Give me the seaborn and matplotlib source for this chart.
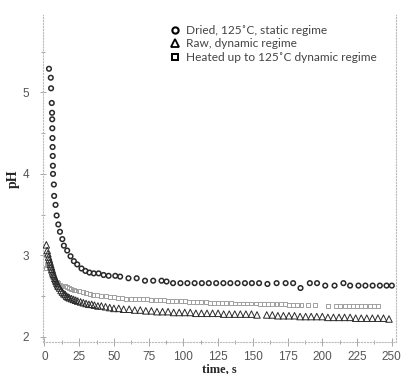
import matplotlib
matplotlib.use("Agg")
import matplotlib.pyplot as plt
from matplotlib.lines import Line2D
from matplotlib.ticker import MultipleLocator
import seaborn as sns

# Dried, 125 C, static regime (circles)
t_dried = [3.3, 4.6, 4.8, 5.3, 5.5, 5.6, 5.7, 5.8, 5.9, 6.0, 6.1, 6.2,
           6.8, 7.0, 8.0, 8.8, 10.0, 11.2, 12.9, 14.0, 16.4, 18.8, 21.2, 23.6,
           26.7, 29.5, 32.4, 35.5, 39.0, 42.6, 46.2, 51.0, 54.5, 60.5, 66.4, 72.4,
           78.3, 84.3, 87.9, 92.6, 97.9, 102.9, 108.1, 113.3, 118.3, 123.6, 128.8, 133.8,
           139.0, 144.3, 149.3, 154.5, 160.5, 167.1, 173.6, 179.0, 184.3, 191.0, 196.2, 202.1,
           208.8, 215.2, 220.0, 226.0, 231.0, 236.2, 241.4, 246.2, 250.0]
ph_dried = [5.29, 5.18, 5.05, 4.87, 4.75, 4.67, 4.56, 4.44, 4.33, 4.22, 4.10, 4.00,
            3.87, 3.73, 3.62, 3.49, 3.38, 3.29, 3.20, 3.12, 3.06, 2.99, 2.93, 2.89,
            2.84, 2.81, 2.79, 2.78, 2.78, 2.76, 2.75, 2.75, 2.74, 2.72, 2.72, 2.69,
            2.69, 2.69, 2.68, 2.66, 2.66, 2.66, 2.66, 2.66, 2.66, 2.66, 2.66, 2.66,
            2.66, 2.66, 2.66, 2.66, 2.65, 2.66, 2.66, 2.66, 2.60, 2.66, 2.66, 2.63,
            2.63, 2.66, 2.63, 2.63, 2.63, 2.63, 2.63, 2.63, 2.63]

# Raw, dynamic regime (triangles)
t_raw = [1.4, 2.0, 2.5, 3.0, 3.5, 4.0, 4.5, 5.0, 5.5, 6.0,
         6.5, 7.0, 7.5, 8.0, 8.5, 9.0, 9.5, 10.0, 11.0, 12.0,
         13.0, 14.0, 15.0, 16.0, 17.0, 18.0, 19.5, 21.0, 22.5, 24.0,
         26.0, 28.0, 30.0, 32.0, 34.0, 36.0, 38.5, 41.0, 44.0, 47.0,
         50.0, 53.5, 57.0, 61.0, 65.0, 69.0, 73.0, 77.0, 81.0, 85.0,
         89.0, 93.0, 97.0, 101.0, 105.0, 109.0, 113.0, 117.0, 121.0, 125.0,
         129.0, 133.0, 137.0, 141.0, 145.0, 149.0, 153.0, 160.0, 164.0, 168.0,
         172.0, 176.0, 180.0, 184.0, 188.0, 192.0, 196.0, 200.0, 204.0, 208.0,
         212.0, 216.0, 220.0, 224.0, 228.0, 232.0, 236.0, 240.0, 244.0, 248.0]
ph_raw = [3.13, 3.06, 3.02, 2.98, 2.95, 2.92, 2.89, 2.86, 2.83, 2.80,
          2.77, 2.75, 2.72, 2.70, 2.68, 2.66, 2.64, 2.62, 2.60, 2.57,
          2.55, 2.53, 2.52, 2.50, 2.49, 2.48, 2.47, 2.46, 2.45, 2.44,
          2.43, 2.42, 2.41, 2.40, 2.40, 2.39, 2.38, 2.38, 2.37, 2.36,
          2.35, 2.35, 2.34, 2.34, 2.33, 2.33, 2.32, 2.32, 2.31, 2.31,
          2.31, 2.30, 2.30, 2.30, 2.30, 2.29, 2.29, 2.29, 2.29, 2.29,
          2.28, 2.28, 2.28, 2.28, 2.28, 2.28, 2.27, 2.27, 2.27, 2.26,
          2.26, 2.26, 2.26, 2.25, 2.25, 2.25, 2.25, 2.25, 2.24, 2.24,
          2.24, 2.24, 2.24, 2.23, 2.23, 2.23, 2.23, 2.23, 2.23, 2.22]

# Heated up to 125 C, dynamic regime (squares)
t_heated = [1.0, 2.0, 3.0, 4.0, 5.0, 6.0, 7.0, 8.0, 9.0, 10.0,
            11.5, 13.0, 14.5, 16.0, 17.5, 19.0, 21.0, 23.0, 25.0, 27.5,
            30.0, 32.5, 35.0, 38.0, 41.0, 44.0, 47.0, 50.0, 53.0, 56.0,
            59.0, 62.0, 65.0, 68.0, 71.0, 74.0, 77.0, 80.0, 83.0, 86.0,
            89.0, 92.0, 95.0, 98.0, 101.0, 104.0, 107.0, 110.0, 113.0, 116.0,
            119.0, 122.0, 125.0, 128.0, 131.0, 134.0, 137.0, 140.0, 143.0, 146.0,
            149.0, 152.0, 155.0, 158.0, 161.0, 164.0, 167.0, 170.0, 173.0, 176.0,
            179.0, 182.0, 185.0, 190.0, 195.0, 204.0, 210.0, 213.0, 216.0, 219.0,
            222.0, 225.0, 228.0, 231.0, 234.0, 237.0, 240.0]
ph_heated = [2.85, 2.88, 2.86, 2.81, 2.77, 2.74, 2.71, 2.69, 2.67, 2.66,
             2.64, 2.63, 2.62, 2.61, 2.60, 2.59, 2.58, 2.57, 2.56, 2.55,
             2.54, 2.53, 2.52, 2.51, 2.50, 2.50, 2.49, 2.49, 2.48, 2.48,
             2.47, 2.47, 2.47, 2.46, 2.46, 2.46, 2.45, 2.45, 2.45, 2.45,
             2.44, 2.44, 2.44, 2.44, 2.44, 2.43, 2.43, 2.43, 2.43, 2.43,
             2.42, 2.42, 2.42, 2.42, 2.42, 2.42, 2.41, 2.41, 2.41, 2.41,
             2.41, 2.41, 2.40, 2.40, 2.40, 2.40, 2.40, 2.40, 2.40, 2.39,
             2.39, 2.39, 2.39, 2.39, 2.39, 2.38, 2.38, 2.38, 2.38, 2.38,
             2.38, 2.38, 2.38, 2.38, 2.38, 2.38, 2.38]

labels = ["Dried, 125\u02DAC, static regime",
          "Raw, dynamic regime",
          "Heated up to 125\u02DAC dynamic regime"]

sns.set_style("white")
plt.rcParams["font.family"] = ["Liberation Sans", "DejaVu Sans"]

fig = plt.figure(figsize=(4.02, 3.74), dpi=100)
ax = fig.add_axes([0.107, 0.086, 0.878, 0.874])

sns.scatterplot(x=t_heated, y=ph_heated, marker="s", s=8, facecolor="none",
                edgecolor="#a0a0a0", linewidth=0.7, ax=ax, zorder=2)
sns.scatterplot(x=t_raw, y=ph_raw, marker="^", s=22, facecolor="none",
                edgecolor="#2a2a2a", linewidth=0.7, ax=ax, zorder=3)
sns.scatterplot(x=t_dried, y=ph_dried, marker="o", s=11, facecolor="none",
                edgecolor="#2a2a2a", linewidth=1.1, ax=ax, zorder=4)

ax.set_xlim(-1, 253)
ax.set_ylim(1.94, 5.95)
ax.xaxis.set_major_locator(MultipleLocator(25))
ax.xaxis.set_minor_locator(MultipleLocator(12.5))
ax.yaxis.set_major_locator(MultipleLocator(1))
ax.yaxis.set_minor_locator(MultipleLocator(0.5))

for side in ["left", "right", "bottom"]:
    ax.spines[side].set_visible(True)
    ax.spines[side].set_color("#bbbbbb")
    ax.spines[side].set_linestyle(":")
    ax.spines[side].set_linewidth(0.8)
ax.spines["top"].set_visible(False)

ax.tick_params(axis="both", which="both", direction="inout", color="#999999",
               labelcolor="#555555", labelsize=8.5)
ax.tick_params(axis="x", which="major", length=6, width=0.6, pad=3.5, bottom=True)
ax.tick_params(axis="x", which="minor", length=3, width=0.6, bottom=True)
ax.tick_params(axis="y", which="major", length=4, width=0.6, pad=8, left=True)
ax.tick_params(axis="y", which="minor", length=3, width=0.6, left=True)

ax.set_xlabel("time, s", family="Liberation Serif", fontweight="bold",
              fontsize=9, labelpad=0)
ax.set_ylabel("pH", family="Liberation Serif", fontweight="bold",
              fontsize=10, labelpad=2)

handles = [Line2D([], [], ls="none", marker="o", ms=4.5, mfc="none",
                  mec="black", mew=1.5),
           Line2D([], [], ls="none", marker="^", ms=6, mfc="none",
                  mec="black", mew=1.3),
           Line2D([], [], ls="none", marker="s", ms=5, mfc="none",
                  mec="black", mew=1.4)]
leg = ax.legend(handles, labels, loc="upper left",
                bbox_to_anchor=(170 / 402, 1 - 25 / 374),
                bbox_transform=fig.transFigure, frameon=False,
                handlelength=0.8, handletextpad=0.5, labelspacing=0.2,
                borderpad=0, borderaxespad=0,
                prop={"family": ["Lato", "DejaVu Sans"], "size": 8.6})
for txt in leg.get_texts():
    txt.set_color("#444444")

fig.savefig("out.png", dpi=100)
